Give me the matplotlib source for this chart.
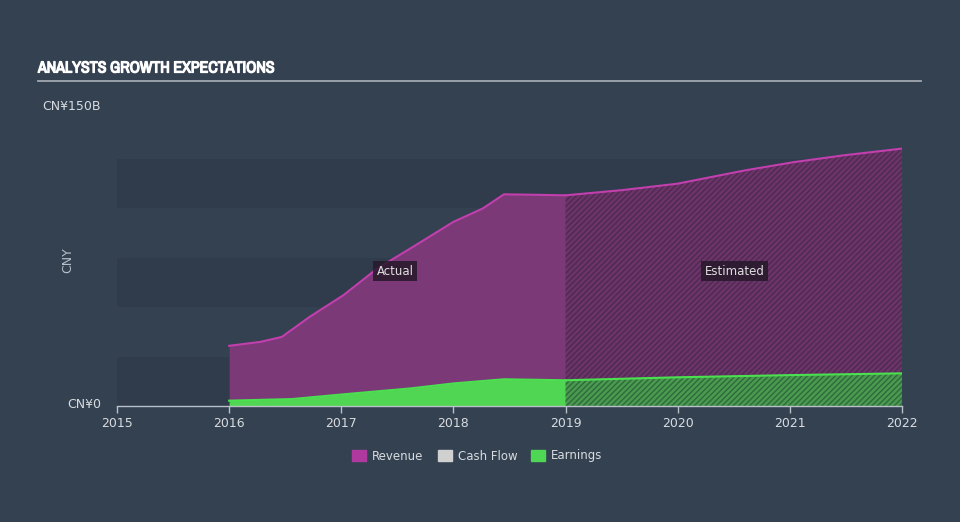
import matplotlib
matplotlib.use('Agg')
import matplotlib.pyplot as plt
import matplotlib.patheffects as pe
from matplotlib.patches import Rectangle
from matplotlib import font_manager

# values (CNY billions)
revYears = [2016.0, 2016.28, 2016.47, 2016.72, 2017.02, 2017.32, 2017.62, 2018.0, 2018.26, 2018.45, 2018.7, 2019.0]
revVals = [30.4, 32.4, 34.9, 45.1, 56.0, 69.4, 79.7, 93.0, 99.7, 106.9, 106.7, 106.4]
revEstYears = [2019.0, 2019.5, 2020.0, 2020.6, 2021.04, 2021.48, 2022.0]
revEstVals = [106.4, 109.0, 112.3, 119.0, 123.2, 126.6, 130.0]

earnYears = [2016.0, 2016.56, 2017.02, 2017.62, 2018.0, 2018.45, 2019.0]
earnVals = [2.7, 3.5, 5.9, 8.9, 11.4, 13.5, 13.0]
earnEstYears = [2019.0, 2020.0, 2021.0, 2022.0]
earnEstVals = [13.0, 14.5, 15.6, 16.5]

xTicks = [2015, 2016, 2017, 2018, 2019, 2020, 2021, 2022]
legendNames = ['Revenue', 'Cash Flow', 'Earnings']
legendColors = ['#b0399f', '#d0d0d0', '#4fd655']

bg = '#344151'
band = '#303c4b'
revFill = '#7b3977'
revLine = '#c23fae'
earnFill = '#50d653'
earnLine = '#4be04f'

# look for a narrow font for the title
narrowFont = None
for f in font_manager.fontManager.ttflist:
    n = f.name.lower()
    if 'narrow' in n or 'condensed' in n:
        narrowFont = f.name
        break
titleFamily = [narrowFont, 'DejaVu Sans'] if narrowFont else ['DejaVu Sans']
titleSize = 11.5 if narrowFont else 9.5

plt.rcParams['hatch.linewidth'] = 1.0

fig = plt.figure(figsize=(9.6, 5.22), dpi=100, facecolor=bg)
ax = fig.add_axes([117/960, 1 - 406/522, (902-117)/960, (406-109)/522])
ax.set_facecolor(bg)
ax.set_xlim(2015, 2022)
ax.set_ylim(0, 150)

# horizontal bands
for lo in [0, 50, 100]:
    ax.axhspan(lo, lo + 25, color=band, lw=0, zorder=0)

# actual
ax.fill_between(revYears, 0, revVals, color=revFill, lw=0, zorder=1)
ax.plot(revYears, revVals, color=revLine, lw=1.5, zorder=3)
ax.fill_between(earnYears, 0, earnVals, color=earnFill, lw=0, zorder=2)
ax.plot(earnYears, earnVals, color=earnLine, lw=1.5, zorder=3)

# estimated (hatched)
ax.fill_between(revEstYears, 0, revEstVals, facecolor='#6c3468', edgecolor='#4e2a52',
                hatch='//////', lw=0, zorder=1)
ax.plot(revEstYears, revEstVals, color=revLine, lw=1.5, zorder=3)
ax.fill_between(earnEstYears, 0, earnEstVals, facecolor='#4a9a50', edgecolor='#2f6a3a',
                hatch='//////', lw=0, zorder=2)
ax.plot(earnEstYears, earnEstVals, color=earnLine, lw=1.5, zorder=3)

# labels
boxStyle = dict(boxstyle='square,pad=0.3', fc='#26192a', ec='none', alpha=0.85)
ax.text(2017.48, 68, 'Actual', color='#e0e0e0', fontsize=8.5, ha='center', va='center',
        bbox=boxStyle, zorder=5)
ax.text(2020.51, 68, 'Estimated', color='#e0e0e0', fontsize=8.5, ha='center', va='center',
        bbox=boxStyle, zorder=5)

# axes styling
for s in ['top', 'right', 'left']:
    ax.spines[s].set_visible(False)
ax.spines['bottom'].set_color('#b8c0c8')
ax.spines['bottom'].set_linewidth(1)
ax.set_xticks(xTicks)
ax.set_xticklabels([str(t) for t in xTicks])
ax.tick_params(axis='x', colors='#b8c0c8', length=5, width=1, labelsize=9, labelcolor='#d8dce0', pad=3)
ax.set_yticks([])

fig.text(101/960, 1 - 107/522, 'CN¥150B', color='#d8dce0', fontsize=9, ha='right', va='center')
fig.text(101/960, 1 - 404/522, 'CN¥0', color='#d8dce0', fontsize=9, ha='right', va='center')
fig.text(68/960, 1 - 260/522, 'CNY', color='#b8c0c8', fontsize=9, ha='center', va='center', rotation=90)

# title + rule
fig.text(38/960, 1 - 68/522, 'ANALYSTS GROWTH EXPECTATIONS', color='white', fontsize=titleSize,
         fontweight='bold', family=titleFamily, ha='left', va='center',
         path_effects=[pe.withStroke(linewidth=0.9, foreground='white')])
fig.add_artist(plt.Line2D([38/960, 921/960], [1 - 81/522, 1 - 81/522], color='#a0a8b0', lw=1.3))

# legend
legX = [352, 438, 531]
for x, name, c in zip(legX, legendNames, legendColors):
    fig.add_artist(Rectangle((x/960, 1 - 461/522), 14/960, 11/522, color=c, transform=fig.transFigure))
    fig.text((x + 20)/960, 1 - 456/522, name, color='#d8dce0', fontsize=8.5, ha='left', va='center')

fig.savefig('out.png', dpi=100, facecolor=bg)
